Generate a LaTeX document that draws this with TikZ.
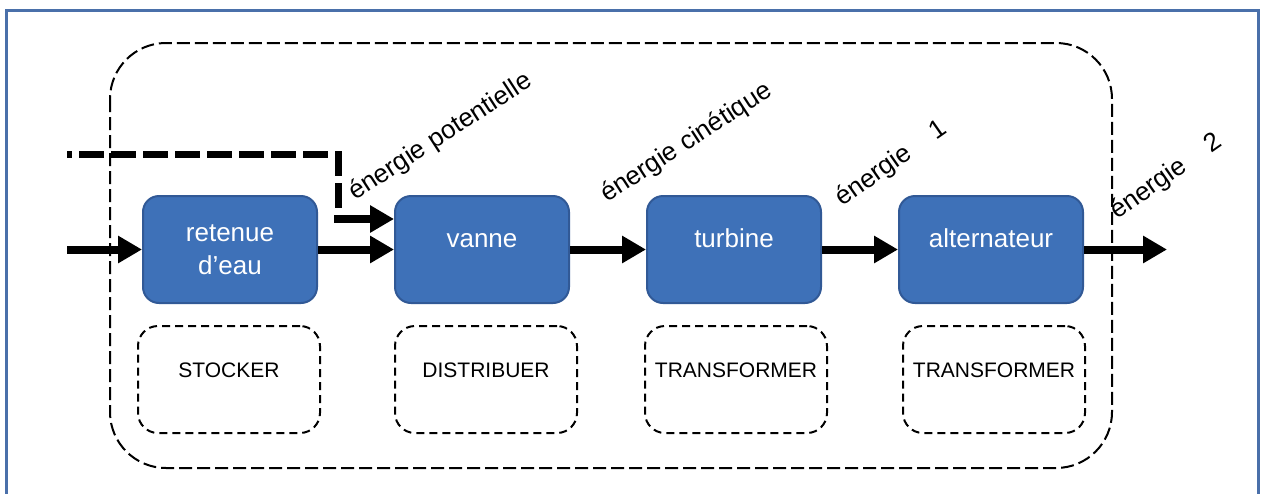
\documentclass[tikz,border=0pt]{standalone}
\usepackage{fontspec}
\setmainfont{Liberation Sans}
\usetikzlibrary{arrows.meta}
\definecolor{boxblue}{RGB}{62,113,184}
\definecolor{boxedge}{RGB}{49,89,150}
\definecolor{frameblue}{RGB}{74,112,170}
\begin{document}
\begin{tikzpicture}[x=0.5pt,y=-0.5pt,
	bloc/.style={draw=boxedge,line width=1pt,fill=boxblue,rounded corners=8pt,
		minimum width=87pt,minimum height=53.5pt,text=white,align=center,
		font=\fontsize{13}{16.5}\selectfont},
	bloc1/.style={bloc,text height=6pt,text depth=8pt},
	fonction/.style={draw,line width=1pt,dash pattern=on 4pt off 2.5pt,rounded corners=10pt,
		minimum width=91pt,minimum height=53.5pt,text height=7.5pt,text depth=10pt,
		font=\fontsize{10.5}{12}\selectfont},
	flux/.style={line width=4pt,-{Triangle[length=12pt,width=13pt]}},
	debit/.style={line width=3.5pt,dash pattern=on 12.5pt off 3.5pt,dash phase=10pt},
	etiquette/.style={anchor=base west,inner sep=0pt,font=\fontsize{13}{15}\selectfont}]
		\useasboundingbox (0,0) rectangle (1263,493);
		\draw [frameblue,line width=1.5pt] (6,10) rectangle (1258,520);
		\draw [line width=1pt,dash pattern=on 6.5pt off 2.5pt,rounded corners=28pt] (110,43) rectangle (1112,468);
		% chaine d'energie
		\node [bloc] (retenue) at (230,249.5) {retenue\\d’eau};
		\node [bloc1] (vanne) at (482,249.5) {vanne};
		\node [bloc1] (turbine) at (734,249.5) {turbine};
		\node [bloc1,minimum width=92pt] (alternateur) at (991,249.5) {alternateur};
		% fonctions
		\node [fonction] (stocker) at (229,379.5) {STOCKER};
		\node [fonction] (distribuer) at (486,379.5) {DISTRIBUER};
		\node [fonction] (transformer1) at (736,379.5) {TRANSFORMER};
		\node [fonction] (transformer2) at (994,379.5) {TRANSFORMER};
		% energies
		\node [etiquette,rotate=33] (epot) at (355,201) {énergie potentielle};
		\node [etiquette,rotate=33] (ecin) at (607,203) {énergie cinétique};
		\node [etiquette,rotate=35] (eun) at (842,207) {énergie\hspace{14pt}1};
		\node [etiquette,rotate=35] (edeux) at (1117,220) {énergie\hspace{14pt}2};
		% fleches
		\coordinate (entree) at (67,249.5);
		\coordinate (sortie) at (1167,249.5);
		\coordinate (depart) at (67,154);
		\coordinate (coude) at (338,210);
		\coordinate (prise) at (334,219);
		\draw [debit] (depart) -| (coude);
		\draw [flux] (prise) -- (prise -| vanne.west);
		\draw [flux] (entree) -- (retenue.west);
		\draw [flux] (retenue) -- (vanne);
		\draw [flux] (vanne) -- (turbine);
		\draw [flux] (turbine) -- (alternateur);
		\draw [flux] (alternateur.east) -- (sortie);
\end{tikzpicture}
\end{document}
